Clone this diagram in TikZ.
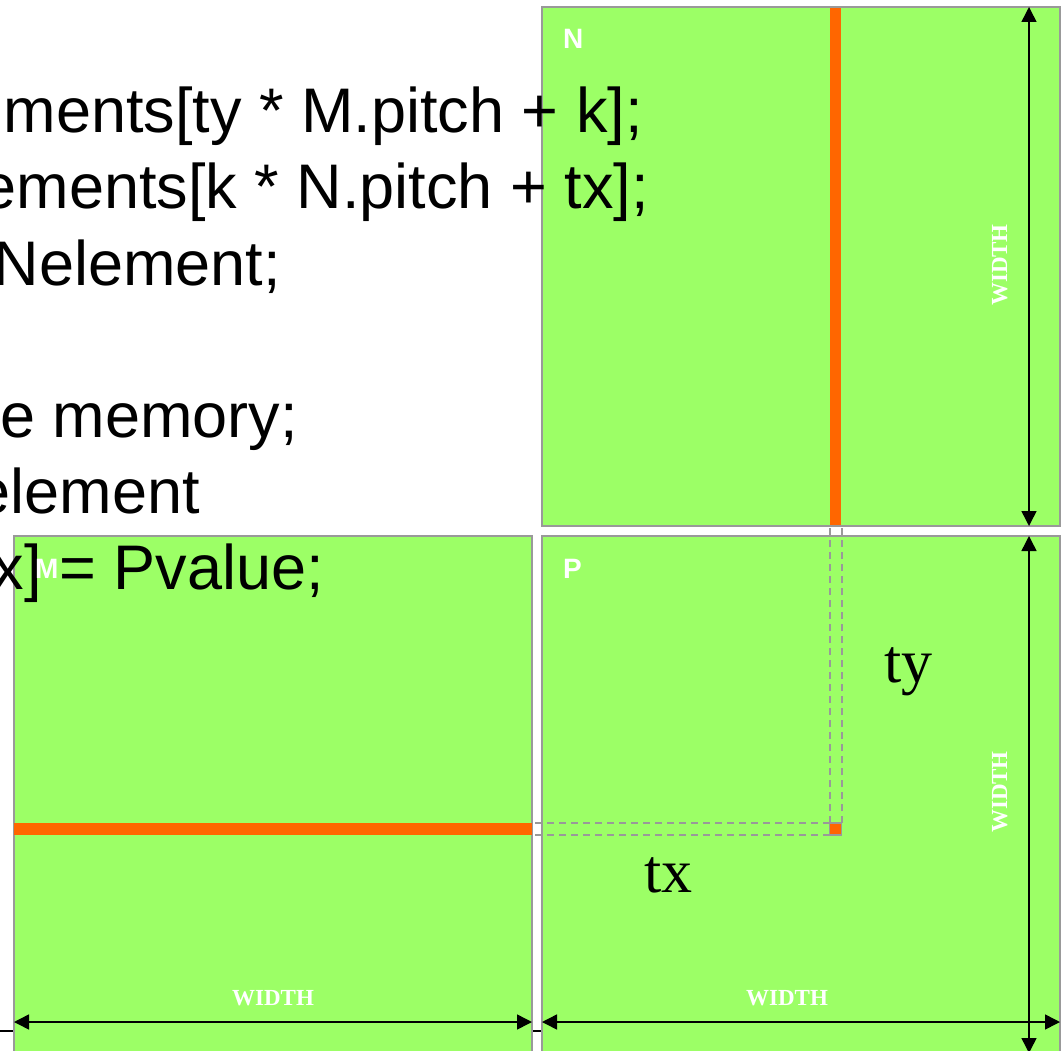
\documentclass[tikz,border=0pt]{standalone}
\usepackage{fontspec}
\setmainfont{Liberation Serif}
\setsansfont{Liberation Sans}
\usepackage{tikz}
\usetikzlibrary{arrows.meta,positioning,calc}
\definecolor{mmGreen}{HTML}{9CFF66}
\definecolor{mmOrange}{HTML}{FF6600}
\definecolor{mmEdge}{HTML}{999999}
\tikzset{
  matrix box/.style={draw=mmEdge,line width=2pt,fill=mmGreen,anchor=north west,
    outer sep=0pt,inner sep=0pt},
  element cell/.style={draw=mmEdge,line width=1.5pt,fill=mmOrange,minimum size=12pt,
    inner sep=0pt,outer sep=0pt},
  guide line/.style={draw=mmEdge,line width=2pt,dash pattern=on 7pt off 5pt},
  dim arrow/.style={{Triangle[length=15pt,width=15pt]}-{Triangle[length=15pt,width=15pt]},
    line width=1.5pt,draw=black},
  box label/.style={text=white,font=\sffamily\bfseries\fontsize{28}{28}\selectfont,
    anchor=base west,inner sep=0pt},
  width label/.style={text=white,font=\bfseries\fontsize{23}{23}\selectfont,
    anchor=base,inner sep=0pt},
  index label/.style={font=\fontsize{62}{62}\selectfont,anchor=base west,inner sep=0pt},
  code line/.style={font=\sffamily\fontsize{63}{63}\selectfont,anchor=base east,inner sep=0pt}
}
\begin{document}
\begin{tikzpicture}[x=1pt,y=-1pt]
\useasboundingbox (0,0) rectangle (1063,1051);
% rule showing only in the gaps
\coordinate (rule) at (0,1031);
\draw[line width=2pt] (rule) -- (545,1031);
% the three matrices
\node[matrix box,minimum width=518pt,minimum height=519pt] (N) at (542,7) {};
\node[matrix box,minimum width=518pt,minimum height=517pt] (M) at (14,536) {};
\node[matrix box,minimum width=518pt,minimum height=517pt] (P) at (542,536) {};
% element of P and its row and column
\node[element cell] (Pel) at (835.5,829) {};
\fill[mmOrange] (830,8) rectangle (841,525);
\fill[mmOrange] (M.west |- Pel.north) rectangle (M.east |- Pel.south);
\draw[guide line] (Pel.north west) -- (Pel.north west |- N.south);
\draw[guide line] (Pel.north east) -- (Pel.north east |- N.south);
\draw[guide line] (Pel.north west) -- (Pel.north west -| M.east);
\draw[guide line] (Pel.south west) -- (Pel.south west -| M.east);
% dimensions
\coordinate (vx) at (1029,0);
\coordinate (hy) at (0,1022);
\draw[dim arrow] (vx |- N.north) -- (vx |- N.south);
\draw[dim arrow] (vx |- P.north) -- (vx |- P.south);
\draw[dim arrow] (M.west |- hy) -- (M.east |- hy);
\draw[dim arrow] (P.west |- hy) -- (P.east |- hy);
\node[width label,rotate=90] (wN) at (1007,265) {WIDTH};
\node[width label,rotate=90] (wP) at (1007,792) {WIDTH};
\node[width label] (wM) at (273,1005) {WIDTH};
\node[width label] (wPh) at (787,1005) {WIDTH};
% names and indices
\node[box label] (lN) at (563,49) {N};
\node[box label] (lP) at (563,578) {P};
\node[index label] (tx) at (644,892) {tx};
\node[index label] (ty) at (884,682) {ty};
% kernel code
\node[code line] (c1) at (643,133) {ments[ty * M.pitch + k];};
\node[code line] (c2) at (649,209) {ements[k * N.pitch + tx];};
\node[code line] (c3) at (281,285) {Nelement;};
\node[code line] (c5) at (298,437) {e memory;};
\node[code line] (c6) at (200,513) {element};
\node[code line] (c7) at (324,589) {x] = Pvalue;};
\node[box label] (lM) at (35,578) {M};
\end{tikzpicture}
\end{document}
